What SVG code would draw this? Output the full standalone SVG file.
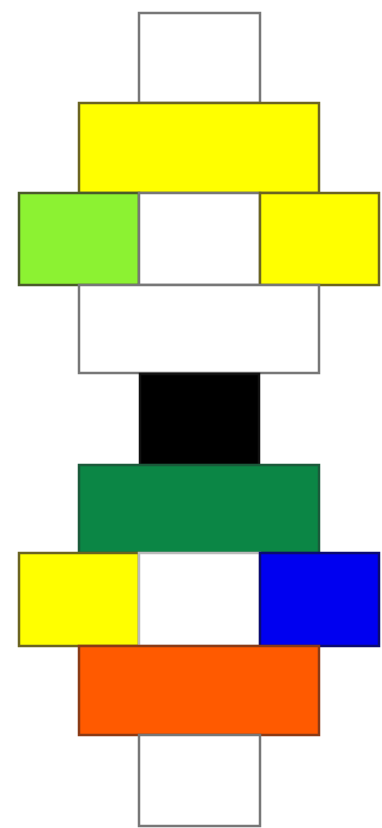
<svg xmlns="http://www.w3.org/2000/svg" width="382" height="828" viewBox="0 0 382 828">
<style>
rect{stroke-width:2.5}
.w{fill:#ffffff;stroke:#777777}
.y{fill:#ffff00;stroke:#6b6420}
.g{fill:#8cf232;stroke:#4a5a2a}
.k{fill:#000000;stroke:#111111}
.dg{fill:#0b8645;stroke:#1a5a3a}
.b{fill:#0000f0;stroke:#0a0a70}
.o{fill:#ff5a00;stroke:#8a3a15}
</style>
<rect width="382" height="828" fill="#ffffff" stroke="none"/>
<g id="top"><rect class="w" x="139" y="13" width="121" height="90"/></g>
<g id="yellow1"><rect class="y" x="79" y="103" width="240" height="90"/></g>
<g id="green1"><rect class="g" x="19" y="193" width="120" height="92"/></g>
<g id="white1"><rect class="w" x="139" y="193" width="121" height="92"/></g>
<g id="yellow2"><rect class="y" x="260" y="193" width="119" height="92"/></g>
<g id="white2"><rect class="w" x="79" y="285" width="240" height="88"/></g>
<g id="black"><rect class="k" x="140" y="374" width="119" height="91"/></g>
<g id="darkgreen"><rect class="dg" x="79" y="465" width="240" height="88"/></g>
<g id="yellow3"><rect class="y" x="19" y="553" width="120" height="93"/></g>
<g id="white3"><rect class="w" x="139" y="553" width="121" height="93" style="stroke:#bbbbbb"/></g>
<g id="blue"><rect class="b" x="260" y="553" width="119" height="93"/></g>
<g id="orange"><rect class="o" x="79" y="646" width="240" height="89"/></g>
<g id="bottom"><rect class="w" x="139" y="735" width="121" height="91"/></g>
<g id="connectors"></g>
</svg>
